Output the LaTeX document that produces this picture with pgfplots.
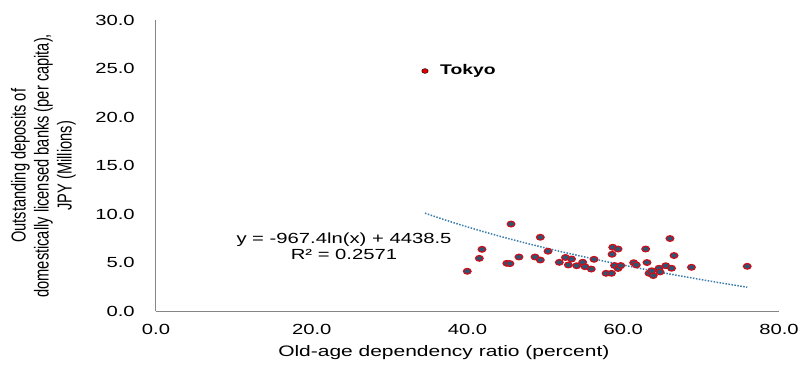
\documentclass[border=0pt]{standalone}
\usepackage{fontspec}
\setmainfont{Liberation Sans}[FakeStretch=1.38]
\newfontfamily\ylabfont{Liberation Sans}[FakeStretch=0.725]
\usepackage{pgfplots}
\pgfplotsset{compat=1.18}
\definecolor{ringred}{RGB}{200,16,30}
\definecolor{dotfill}{RGB}{40,88,118}
\definecolor{trend}{RGB}{60,125,170}
\definecolor{axgray}{RGB}{134,134,134}
\definecolor{tokred}{RGB}{225,0,0}
\pgfplotstableread{
x y
39.97 4.14
41.52 5.47
41.86 6.40
45.05 4.96
45.45 4.93
45.59 9.00
46.61 5.61
49.35 7.64
48.67 5.61
49.35 5.30
50.34 6.20
51.79 5.06
52.58 5.56
53.36 5.40
52.95 4.79
54.02 4.71
54.79 5.07
55.09 4.61
55.89 4.37
56.25 5.37
57.79 3.93
58.49 3.93
58.65 6.61
59.33 6.43
58.56 5.89
58.88 4.73
59.33 4.43
59.68 4.73
61.34 5.02
61.68 4.79
62.88 6.43
63.05 5.04
63.31 3.93
63.85 3.70
63.65 4.19
64.59 4.45
64.72 4.07
65.46 4.71
66.20 4.45
66.00 7.51
66.52 5.76
68.76 4.55
75.92 4.65
}\prefdata
\begin{document}
\begin{tikzpicture}
\useasboundingbox (-156pt,-57.5pt) rectangle (647pt,311.5pt);
\begin{axis}[
  at={(0,0)}, anchor=south west,
  width=623pt, height=291.5pt, scale only axis,
  xmin=0, xmax=80, ymin=0, ymax=30,
  axis lines=left,
  axis line style={-, draw=axgray, line width=1pt},
  tick style={draw=none},
  xtick={0,20,...,80}, ytick={0,5,...,30},
  /pgf/number format/assume math mode=true,
  /pgf/number format/.cd, fixed, fixed zerofill, precision=1, /pgfplots/.cd,
  tick label style={font=\fontsize{14.67}{16}\selectfont, inner sep=0pt, text=black},
  yticklabel style={anchor=east, xshift=-19pt},
  xticklabel style={anchor=center, yshift=-15.5pt},
  xlabel={Old-age dependency ratio (percent)},
  xlabel style={at={([yshift=-41.5pt]axis description cs:0.462,0)}, anchor=center, font=\fontsize{15.2}{18}\selectfont, inner sep=0pt},
  ylabel={Outstanding deposits of\\domestically licensed banks (per capita),\\JPY (Millions)},
  ylabel style={at={([xshift=-112.5pt]axis description cs:0,0.5)}, anchor=center, align=center, inner sep=0pt, font=\ylabfont\fontsize{20.2}{23}\selectfont},
  clip=false,
]
\addplot[only marks, mark=*, mark size=2.8pt, mark options={draw=ringred, fill=dotfill, line width=1.3pt, xscale=1.35}] table[x=x,y=y] {\prefdata};
\addplot[only marks, mark=*, mark size=2.4pt, mark options={draw=none, fill=tokred, xscale=1.35}] coordinates {(34.54,24.75)};
\addplot[trend, line width=1.5pt, line cap=butt, dash pattern=on 1.5pt off 1.5pt] coordinates {
(34.54,10.12) (36,9.72) (38,9.195) (40,8.699) (42,8.226) (44,7.777) (46,7.347) (48,6.935) (50,6.540) (52,6.161) (54,5.796) (56,5.443) (58,5.104) (60,4.777) (62,4.460) (64,4.152) (66,3.854) (68,3.566) (70,3.285) (72,3.012) (74,2.747) (75.92,2.499)};
\node[anchor=west, inner sep=0pt, font=\bfseries\fontsize{14}{16}\selectfont] at ([xshift=15pt]axis cs:34.54,24.75) {Tokyo};
\node[align=center, inner sep=0pt, font=\fontsize{14.67}{16.5}\selectfont] at (axis cs:24.14,6.74) {y = -967.4ln(x) + 4438.5\\R² = 0.2571};
\end{axis}
\end{tikzpicture}
\end{document}
